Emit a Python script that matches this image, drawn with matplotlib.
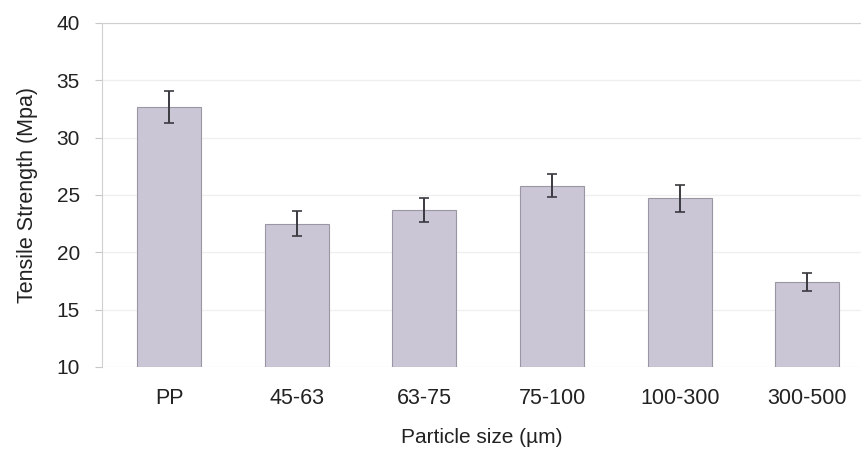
import matplotlib
matplotlib.use("Agg")
import matplotlib.pyplot as plt

# data
sizes = ["PP", "45-63", "63-75", "75-100", "100-300", "300-500"]
strength = [32.7, 22.5, 23.7, 25.8, 24.7, 17.4]
err = [1.4, 1.1, 1.05, 1.0, 1.2, 0.8]
yticks = [10, 15, 20, 25, 30, 35, 40]

plt.rcParams['font.family'] = ['Liberation Sans', 'DejaVu Sans']

fig = plt.figure(figsize=(8.61, 4.55), dpi=100)
ax = fig.add_axes([102 / 861, 1 - 367 / 455, 1 - 102 / 861, (367 - 23) / 455])

x = list(range(len(sizes)))
ax.bar(x, [s - 10 for s in strength], bottom=10, width=0.5,
       color='#cbc6d6', edgecolor='#9a96a3', linewidth=0.8, zorder=2)
ax.errorbar(x, strength, yerr=err, fmt='none', ecolor='#3a3a40',
            elinewidth=1.4, capsize=3.5, capthick=1.2, zorder=3)

ax.set_xlim(-0.525, 5.42)
ax.set_ylim(10, 40)
ax.set_yticks(yticks)
ax.set_xticks(x)
ax.set_xticklabels(sizes)

ax.yaxis.grid(True, color='#efefef', linewidth=0.9, zorder=0)
ax.set_axisbelow(True)

for side in ['right', 'bottom']:
    ax.spines[side].set_visible(False)
ax.spines['left'].set_color('#d0d0d0')
ax.spines['top'].set_color('#d0d0d0')

ax.tick_params(axis='y', labelsize=15, colors='#c8c8c8', labelcolor='#222222',
               length=5, width=0.8, pad=11)
ax.tick_params(axis='x', labelsize=15.5, labelcolor='#222222', length=0, pad=15)

ax.set_ylabel('Tensile Strength (Mpa)', fontsize=15.5, color='#222222', labelpad=13)
ax.set_xlabel('Particle size (µm)', fontsize=15, color='#222222', labelpad=14)

fig.savefig('out.png', dpi=100)
